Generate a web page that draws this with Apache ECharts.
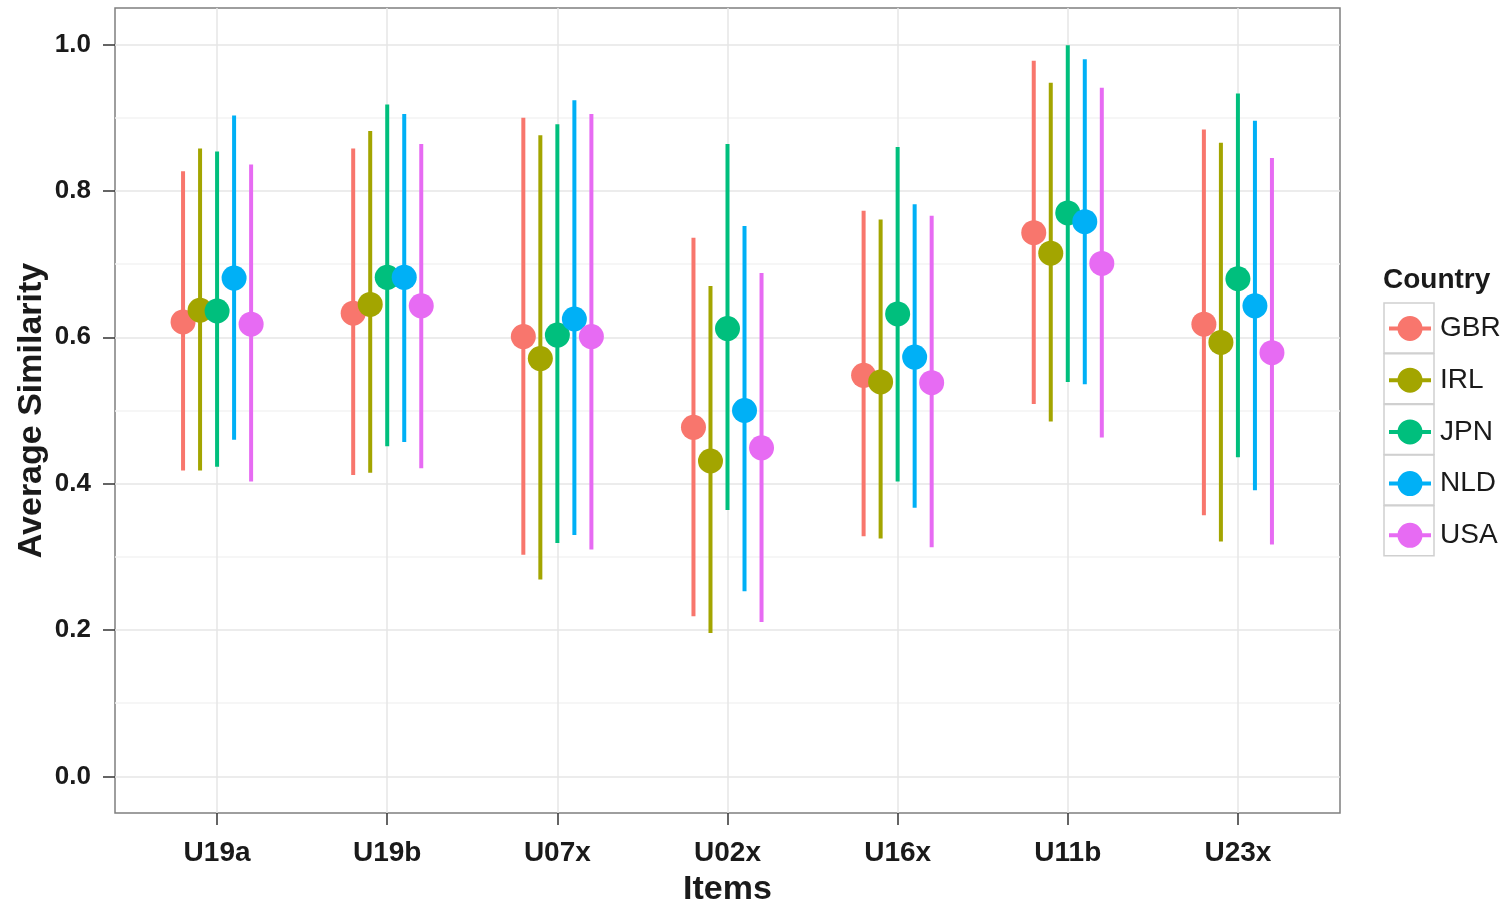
<!DOCTYPE html>
<html>
<head>
<meta charset="utf-8">
<script src="https://cdn.jsdelivr.net/npm/echarts@6/dist/echarts.min.js"></script>
<style>
  html, body { margin: 0; padding: 0; background: #ffffff; }
  #chart { width: 1511px; height: 904px; }
</style>
</head>
<body>
<div id="chart"></div>
<script>
// Items on the x axis and countries dodged within each item
const items = ['U19a', 'U19b', 'U07x', 'U02x', 'U16x', 'U11b', 'U23x'];
const countries = ['GBR', 'IRL', 'JPN', 'NLD', 'USA'];
const countryColors = ['#F8766D', '#A3A500', '#00BF7D', '#00B0F6', '#E76BF3'];
const dodge = [-0.2, -0.1, 0, 0.1, 0.2];

// y axis ticks (major labelled, minor grid only)
const yTicks = [0, 0.2, 0.4, 0.6, 0.8, 1.0];
const yMinorTicks = [0.1, 0.3, 0.5, 0.7, 0.9];

// Average similarity (point) with lower / upper interval per item
const gbrMean = [0.621, 0.633, 0.601, 0.477, 0.548, 0.743, 0.618];
const gbrLow  = [0.418, 0.412, 0.303, 0.219, 0.328, 0.509, 0.357];
const gbrHigh = [0.827, 0.858, 0.900, 0.736, 0.773, 0.978, 0.884];

const irlMean = [0.637, 0.645, 0.571, 0.431, 0.539, 0.715, 0.593];
const irlLow  = [0.418, 0.415, 0.269, 0.196, 0.325, 0.485, 0.321];
const irlHigh = [0.858, 0.882, 0.876, 0.670, 0.761, 0.948, 0.866];

const jpnMean = [0.636, 0.682, 0.603, 0.612, 0.632, 0.770, 0.680];
const jpnLow  = [0.423, 0.451, 0.319, 0.364, 0.403, 0.539, 0.436];
const jpnHigh = [0.854, 0.918, 0.891, 0.864, 0.860, 0.999, 0.933];

const nldMean = [0.681, 0.682, 0.625, 0.500, 0.573, 0.758, 0.643];
const nldLow  = [0.460, 0.457, 0.330, 0.253, 0.367, 0.536, 0.391];
const nldHigh = [0.903, 0.905, 0.924, 0.752, 0.782, 0.980, 0.896];

const usaMean = [0.618, 0.643, 0.601, 0.449, 0.538, 0.701, 0.579];
const usaLow  = [0.403, 0.421, 0.310, 0.211, 0.313, 0.463, 0.317];
const usaHigh = [0.836, 0.864, 0.905, 0.688, 0.766, 0.941, 0.845];

const means = [gbrMean, irlMean, jpnMean, nldMean, usaMean];
const lows  = [gbrLow, irlLow, jpnLow, nldLow, usaLow];
const highs = [gbrHigh, irlHigh, jpnHigh, nldHigh, usaHigh];

const FONT = '"Liberation Sans", Arial, sans-serif';
const TEXT = '#1a1a1a';

const series = [];
countries.forEach((c, k) => {
  const color = countryColors[k];
  // interval bars
  series.push({
    name: c,
    type: 'custom',
    xAxisIndex: 0,
    yAxisIndex: 0,
    itemStyle: { color: color },
    encode: { x: 0, y: [1, 2] },
    data: items.map((_, i) => [i + 1 + dodge[k], lows[k][i], highs[k][i]]),
    renderItem: function (params, api) {
      const x = api.value(0);
      const p1 = api.coord([x, api.value(1)]);
      const p2 = api.coord([x, api.value(2)]);
      return {
        type: 'line',
        shape: { x1: p1[0], y1: p1[1], x2: p2[0], y2: p2[1] },
        style: { stroke: color, lineWidth: 4 }
      };
    },
    z: 3
  });
  // mean points
  series.push({
    name: c,
    type: 'scatter',
    xAxisIndex: 0,
    yAxisIndex: 0,
    symbol: 'circle',
    symbolSize: 25,
    itemStyle: { color: color, opacity: 1 },
    data: items.map((_, i) => [i + 1 + dodge[k], means[k][i]]),
    z: 4
  });
});

// legend key: horizontal line through a dot
const keyIcon = 'path://M0 11h42v4H0z M21 0.5a12.5 12.5 0 1 1 0 25a12.5 12.5 0 1 1 0-25z';

const chart = echarts.init(document.getElementById('chart'), null, { renderer: 'canvas' });

const legendTop = 314.5;
const legendStep = 50.7;
const legendItemH = 27;

chart.setOption({
  backgroundColor: '#ffffff',
  animation: false,
  title: {
    text: 'Country',
    left: 1383,
    top: 266,
    padding: 0,
    textStyle: { fontFamily: FONT, fontSize: 28, fontWeight: 'bold', color: TEXT }
  },
  legend: {
    orient: 'vertical',
    left: 1389,
    top: legendTop,
    padding: 0,
    itemWidth: 42,
    itemHeight: 25,
    itemGap: legendStep - legendItemH,
    icon: keyIcon,
    data: countries,
    textStyle: { fontFamily: FONT, fontSize: 28, color: TEXT, padding: [0, 0, 0, 4] },
    selectedMode: false
  },
  graphic: countries.map((c, k) => ({
    type: 'rect',
    shape: { x: 1384, y: legendTop + legendItemH / 2 - 25 + k * legendStep, width: 50, height: 50 },
    style: { fill: 'none', stroke: '#d0d0d0', lineWidth: 1.5 },
    silent: true
  })),
  grid: {
    left: 115,
    right: 171,
    top: 8,
    bottom: 91,
    containLabel: false,
    outerBoundsMode: 'none',
    show: true,
    borderColor: '#7f7f7f',
    borderWidth: 1.5,
    backgroundColor: '#ffffff'
  },
  xAxis: {
    type: 'value',
    min: 0.4,
    max: 7.6,
    position: 'bottom',
    name: 'Items',
    nameLocation: 'middle',
    nameGap: 60,
    nameMoveOverlap: false,
    nameTextStyle: { fontFamily: FONT, fontSize: 34, fontWeight: 'bold', color: TEXT },
    axisLine: { show: false, onZero: false },
    axisTick: {
      show: true, inside: false, length: 12,
      customValues: [1, 2, 3, 4, 5, 6, 7],
      lineStyle: { color: '#333333', width: 1.5 }
    },
    axisLabel: {
      customValues: [1, 2, 3, 4, 5, 6, 7],
      formatter: v => items[Math.round(v) - 1],
      margin: 26,
      fontFamily: FONT, fontSize: 28, fontWeight: 'bold', color: TEXT
    },
    splitLine: { show: true, lineStyle: { color: '#e6e6e6', width: 1.5 } }
  },
  yAxis: [
    {
      type: 'value',
      min: -0.05,
      max: 1.05,
      position: 'left',
      name: 'Average Similarity',
      nameLocation: 'middle',
      nameGap: 66,
      nameRotate: 90,
      nameMoveOverlap: false,
      nameTextStyle: { fontFamily: FONT, fontSize: 34, fontWeight: 'bold', color: TEXT },
      axisLine: { show: false, onZero: false },
      axisTick: {
        show: true, inside: false, length: 12,
        customValues: yTicks,
        lineStyle: { color: '#333333', width: 1.5 }
      },
      axisLabel: {
        customValues: yTicks,
        formatter: v => v.toFixed(1),
        margin: 24,
        fontFamily: FONT, fontSize: 26, fontWeight: 'bold', color: TEXT
      },
      splitLine: { show: true, lineStyle: { color: '#e6e6e6', width: 1.5 } }
    },
    {
      type: 'value',
      min: -0.05,
      max: 1.05,
      position: 'left',
      axisLine: { show: false, onZero: false },
      axisTick: { show: false, customValues: yMinorTicks },
      axisLabel: { show: false, customValues: yMinorTicks },
      splitLine: { show: true, lineStyle: { color: '#f3f3f3', width: 1.5 } }
    }
  ],
  series: series
});
</script>
</body>
</html>
